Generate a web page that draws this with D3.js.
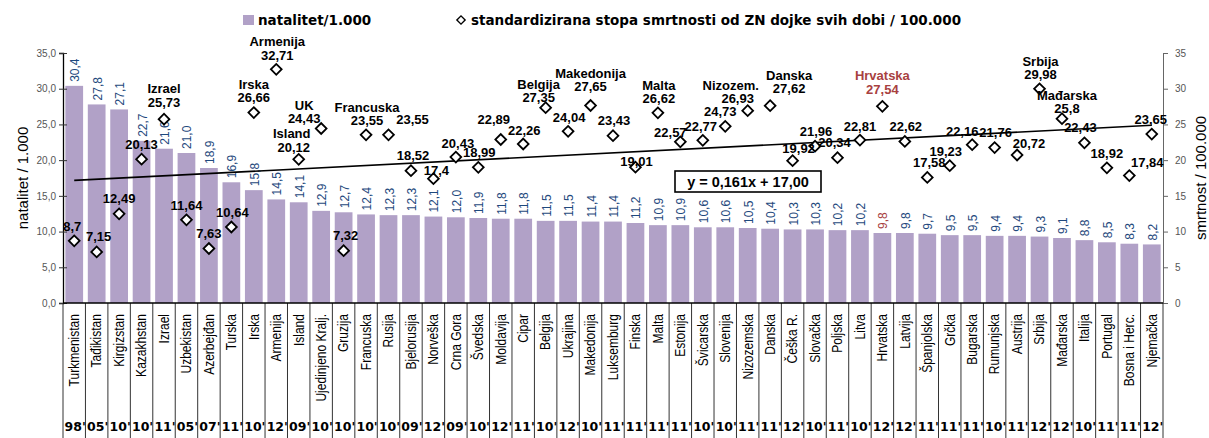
<html>
<head>
<meta charset="utf-8">
<style>
    body { margin: 0; background: white; }
    svg { display: block; }
</style>
<script src="https://cdn.jsdelivr.net/npm/d3@7"></script>
</head>
<body>
<svg id="chart"></svg>
<script>
    // categories (countries), bar values, diamond values, years
    let countries = ["Turkmenistan", "Tađikistan", "Kirgizstan", "Kazakhstan", "Izrael", "Uzbekistan", "Azerbejđan",
        "Turska", "Irska", "Armenija", "Island", "Ujedinjeno Kralj.", "Gruzija", "Francuska", "Rusija", "Bjelorusija",
        "Norveška", "Crna Gora", "Švedska", "Moldavija", "Cipar", "Belgija", "Ukrajina", "Makedonija", "Luksemburg",
        "Finska", "Malta", "Estonija", "Švicarska", "Slovenija", "Nizozemska", "Danska", "Češka R.", "Slovačka",
        "Poljska", "Litva", "Hrvatska", "Latvija", "Španjolska", "Grčka", "Bugarska", "Rumunjska", "Austrija",
        "Srbija", "Mađarska", "Italija", "Portugal", "Bosna i Herc.", "Njemačka"]

    let natalitet = [30.4, 27.8, 27.1, 22.7, 21.6, 21.0, 18.9, 16.9, 15.8, 14.5, 14.1, 12.9, 12.7, 12.4, 12.3, 12.3,
        12.1, 12.0, 11.9, 11.8, 11.8, 11.5, 11.5, 11.4, 11.4, 11.2, 10.9, 10.9, 10.6, 10.6, 10.5, 10.4, 10.3, 10.3,
        10.2, 10.2, 9.8, 9.8, 9.7, 9.5, 9.5, 9.4, 9.4, 9.3, 9.1, 8.8, 8.5, 8.3, 8.2]

    let smrtnost = [8.7, 7.15, 12.49, 20.13, 25.73, 11.64, 7.63, 10.64, 26.66, 32.71, 20.12, 24.43, 7.32, 23.55, 23.55,
        18.52, 17.4, 20.43, 18.99, 22.89, 22.26, 27.35, 24.04, 27.65, 23.43, 19.01, 26.62, 22.57, 22.77, 24.73, 26.93,
        27.62, 19.92, 21.96, 20.34, 22.81, 27.54, 22.62, 17.58, 19.23, 22.16, 21.76, 20.72, 29.98, 25.8, 22.43, 18.92,
        17.84, 23.65]

    let godine = ["98", "05", "10", "10", "11", "05", "07", "11", "10", "12", "09", "10", "10", "10", "10", "09", "12",
        "09", "10", "12", "11", "10", "12", "10", "11", "11", "11", "11", "10", "10", "11", "11", "12", "10", "11",
        "10", "12", "12", "11", "11", "11", "10", "11", "12", "12", "10", "11", "11", "12"]

    // names written above some of the diamonds
    let diamondNames = {4: "Izrael", 8: "Irska", 9: "Armenija", 10: "Island", 11: "UK", 13: "Francuska",
        21: "Belgija", 23: "Makedonija", 26: "Malta", 30: "Nizozem.", 31: "Danska", 36: "Hrvatska",
        43: "Srbija", 44: "Mađarska"}

    let leftTicks = [0, 5, 10, 15, 20, 25, 30, 35]
    let rightTicks = [0, 5, 10, 15, 20, 25, 30, 35]

    let trendSlope = 0.161
    let trendIntercept = 17.00
    let highlight = "Hrvatska"

    // label placement (dx, dy of value label, dx of name label) relative to each diamond
    let labelOffsets = [[-2,-14],[2,-15],[0,-15],[0,-15],[0,-17],[0,-14],[0,-15],[1,-15],[0,-15],[1,-14],
        [-5,-12,-7],[-17,-10],[2,-15],[1,-14],[24,-15],[2,-15],[3,-8],[2,-14],[1,-15],[-7,-20],
        [1,-14],[-7,-10],[1,-14],[0,-19],[1,-15],[1,-6],[1,-14],[-10,-9],[-2,-14],[-5,-15],
        [-10,-12,-17],[19,-17],[6,-12],[1,-15],[-3,-15],[0,-14],[0,-17],[1,-15],[2,-15],[-4,-14],
        [-10,-13],[1,-15],[12,-12],[1,-14],[5,-10],[-4,-15],[0,-14],[18,-13],[-1,-15]]

    let width = 1209, height = 438
    let margin = {top: 53, bottom: 135, left: 63, right: 46}
    let plotBottom = height - margin.bottom
    let plotRight = width - margin.right

    let barColor = "#b1a1c7"
    let barLabelColor = "#1f497d"
    let redColor = "#a8413f"
    let commaFmt = d3.formatLocale({decimal: ",", thousands: ".", grouping: [3], currency: ["", ""]})

    let svg = d3.select("#chart").attr("width", width).attr("height", height)
        .style("font-family", "'Liberation Sans', Arial, sans-serif")

    let x = d3.scaleBand().domain(countries).range([margin.left, plotRight]).paddingInner(0.21).paddingOuter(0.105)
    let yLeft = d3.scaleLinear().domain([0, 35]).range([plotBottom, margin.top])
    let yRight = d3.scaleLinear().domain([0, 35]).range([plotBottom, margin.top])
    let cx = (d) => x(d) + x.bandwidth() / 2

    // bars
    svg.append("g").selectAll("rect").data(countries).enter().append("rect")
        .attr("x", d => x(d))
        .attr("width", x.bandwidth())
        .attr("y", (d, i) => yLeft(natalitet[i]))
        .attr("height", (d, i) => plotBottom - yLeft(natalitet[i]))
        .attr("fill", barColor)

    // bar value labels
    svg.append("g").selectAll("text").data(countries).enter().append("text")
        .attr("transform", (d, i) => `translate(${cx(d) + 1},${yLeft(natalitet[i]) - 4}) rotate(-90)`)
        .attr("text-anchor", "start")
        .attr("dominant-baseline", "central")
        .style("font-size", "12px")
        .attr("fill", d => d === highlight ? redColor : barLabelColor)
        .text((d, i) => commaFmt.format(".1f")(natalitet[i]))

    // left axis
    let axisL = svg.append("g").attr("transform", `translate(${margin.left},0)`)
        .call(d3.axisLeft(yLeft).tickValues(leftTicks).tickSize(4).tickPadding(3).tickFormat(commaFmt.format(".1f")))
    axisL.selectAll(".tick line").attr("x2", 4).attr("x1", -4).attr("stroke", "#333")
    axisL.select(".domain").attr("stroke", "#000").attr("stroke-width", 1.3)
    axisL.selectAll("text").style("font-size", "10px").attr("fill", "#555").attr("font-family", "'Liberation Sans', Arial")

    // right axis
    let axisR = svg.append("g").attr("transform", `translate(${plotRight},0)`)
        .call(d3.axisRight(yRight).tickValues(rightTicks).tickSize(5).tickPadding(7).tickFormat(d3.format("d")))
    axisR.selectAll(".tick line").attr("stroke", "#666")
    axisR.select(".domain").attr("stroke", "#666")
    axisR.selectAll("text").style("font-size", "10px").attr("fill", "#555").attr("font-family", "'Liberation Sans', Arial")

    // x axis and category separators
    let bounds = countries.map(d => x(d) - x.step() * x.paddingInner() / 2)
    bounds.push(plotRight)
    svg.append("g").selectAll("line").data(bounds).enter().append("line")
        .attr("x1", d => d).attr("x2", d => d)
        .attr("y1", plotBottom).attr("y2", height)
        .attr("stroke", "#333").attr("stroke-width", 1)
    svg.append("line").attr("x1", margin.left).attr("x2", plotRight)
        .attr("y1", plotBottom).attr("y2", plotBottom).attr("stroke", "#000").attr("stroke-width", 1.3)

    // category names (condensed like the original Calibri labels)
    svg.append("g").selectAll("text").data(countries).enter().append("text")
        .attr("transform", d => `translate(${cx(d)},${plotBottom + 11}) rotate(-90) scale(0.86,1)`)
        .attr("text-anchor", "end")
        .attr("dominant-baseline", "central")
        .style("font-family", "'Liberation Sans', Arial, sans-serif")
        .style("font-size", "14px")
        .attr("fill", "#000")
        .text(d => d)

    // years
    svg.append("g").selectAll("text").data(countries).enter().append("text")
        .attr("x", d => cx(d) + 1)
        .attr("y", 431)
        .attr("text-anchor", "middle")
        .style("font-family", "'DejaVu Sans', sans-serif")
        .style("font-weight", "bold")
        .style("font-size", "12.5px")
        .text((d, i) => godine[i] + "'")

    // trend line
    let xi = (i) => cx(countries[i - 1])
    svg.append("line")
        .attr("x1", xi(1)).attr("y1", yRight(trendSlope * 1 + trendIntercept))
        .attr("x2", xi(countries.length)).attr("y2", yRight(trendSlope * countries.length + trendIntercept))
        .attr("stroke", "#000").attr("stroke-width", 1.6)

    // trend equation box
    let eqBox = svg.append("g").attr("transform", "translate(675,171)")
    eqBox.append("rect").attr("width", 146).attr("height", 21)
        .attr("fill", "white").attr("stroke", "#000").attr("stroke-width", 1.6)
    eqBox.append("text").attr("x", 73).attr("y", 16).attr("text-anchor", "middle")
        .style("font-weight", "bold").style("font-size", "14.5px")
        .text("y = " + commaFmt.format(".3f")(trendSlope) + "x + " + commaFmt.format(".2f")(trendIntercept))

    // diamonds
    let diamond = d3.symbol().type(d3.symbolSquare).size(58)
    svg.append("g").selectAll("path").data(countries).enter().append("path")
        .attr("d", diamond)
        .attr("transform", (d, i) => `translate(${cx(d)},${yRight(smrtnost[i])}) rotate(45)`)
        .attr("fill", "white").attr("stroke", "#000").attr("stroke-width", 1.8)

    // diamond labels
    let dLabels = svg.append("g").style("font-weight", "bold").style("font-size", "13px")
    countries.forEach((d, i) => {
        let off = labelOffsets[i]
        let px = cx(d), py = yRight(smrtnost[i])
        let color = d === highlight ? redColor : "#000"
        dLabels.append("text")
            .attr("x", px + off[0]).attr("y", py + off[1])
            .attr("text-anchor", "middle").attr("dominant-baseline", "central")
            .attr("fill", color)
            .text(commaFmt.format(",")(smrtnost[i]))
        if (diamondNames[i]) {
            dLabels.append("text")
                .attr("x", px + (off[2] !== undefined ? off[2] : off[0])).attr("y", py + off[1] - 13.5)
                .attr("text-anchor", "middle").attr("dominant-baseline", "central")
                .attr("fill", color)
                .text(diamondNames[i])
        }
    })

    // axis titles
    svg.append("text")
        .attr("transform", `translate(22,${(margin.top + plotBottom) / 2}) rotate(-90)`)
        .attr("text-anchor", "middle").attr("dominant-baseline", "central")
        .style("font-size", "15px")
        .text("natalitet / 1.000")
    svg.append("text")
        .attr("transform", `translate(1200,${(margin.top + plotBottom) / 2}) rotate(-90)`)
        .attr("text-anchor", "middle").attr("dominant-baseline", "central")
        .style("font-size", "15px")
        .text("smrtnost / 100.000")

    // legend
    let legend = svg.append("g").style("font-family", "'DejaVu Sans', sans-serif")
        .style("font-weight", "bold").style("font-size", "13.5px")
    legend.append("rect").attr("x", 243).attr("y", 15).attr("width", 11).attr("height", 10).attr("fill", barColor)
    legend.append("text").attr("x", 258).attr("y", 25).text("natalitet/1.000")
    legend.append("path").attr("d", d3.symbol().type(d3.symbolSquare).size(34))
        .attr("transform", "translate(461,20) rotate(45)")
        .attr("fill", "white").attr("stroke", "#000").attr("stroke-width", 1.4)
    legend.append("text").attr("x", 471).attr("y", 25)
        .text("standardizirana stopa smrtnosti od ZN dojke svih dobi / 100.000")
</script>
</body>
</html>
